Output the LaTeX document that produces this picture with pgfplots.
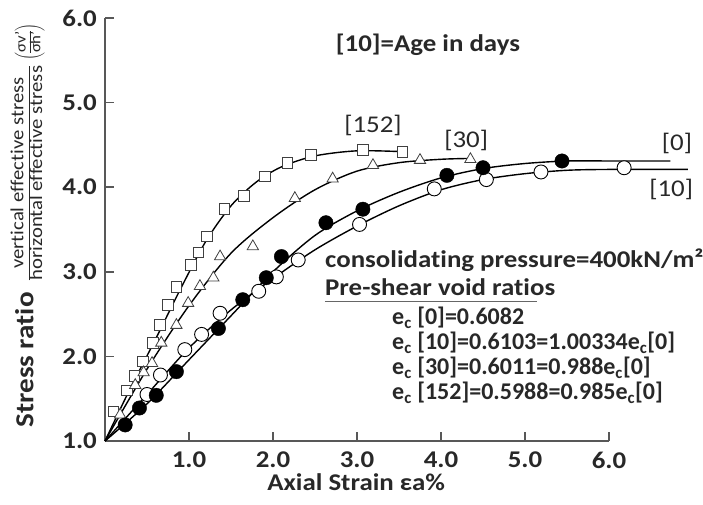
\documentclass[border=0pt]{standalone}
\usepackage{fontspec}
\setmainfont{Carlito}[Ligatures={TeX,NoCommon}]
\newfontfamily\widefont{Carlito}[FakeStretch=1.12, Ligatures={TeX,NoCommon}]
\usepackage{pgfplots}
\pgfplotsset{compat=1.18}
\definecolor{axisgray}{RGB}{88,88,88}
\definecolor{txt}{RGB}{40,40,40}
\begin{document}
\begin{tikzpicture}
\useasboundingbox (0,0) rectangle (703pt,504pt);
\begin{axis}[
  at={(105pt,63pt)}, anchor=south west,
  scale only axis, width=504pt, height=423pt,
  xmin=0, xmax=6, ymin=1, ymax=6,
  axis x line=bottom, axis y line=left,
  axis line style={-, draw=axisgray, line width=1.8pt},
  xtick={1,2,3,4,5,6}, ytick={1,2,3,4,5,6},
  tick align=inside, major tick length=9pt,
  tick style={draw=axisgray, line width=1.5pt},
  /pgf/number format/.cd, fixed, fixed zerofill, precision=1, assume math mode=true,
  /pgfplots/.cd,
  ticklabel style={font=\widefont\bfseries\fontsize{24}{24}\selectfont, text=txt, inner sep=0pt},
  xticklabel style={anchor=north, yshift=-11pt},
  yticklabel style={anchor=east, xshift=-8pt},
  clip=false,
]
% fitted curves
\addplot[black, line width=1.4pt, smooth] coordinates {
(0,1) (0.3,1.62) (0.6,2.2) (0.9,2.8) (1.2,3.36) (1.5,3.78) (1.8,4.06) (2.1,4.24) (2.5,4.37) (3.0,4.43) (3.54,4.42)};
\addplot[black, line width=1.4pt, smooth] coordinates {
(0,1) (0.5,1.85) (1.0,2.6) (1.5,3.22) (2.0,3.64) (2.5,3.97) (3.0,4.19) (3.5,4.29) (4.0,4.33) (4.35,4.34)};
\addplot[black, line width=1.4pt, smooth] coordinates {
(0,1) (0.5,1.44) (1.0,1.96) (1.5,2.48) (2.0,3.0) (2.5,3.43) (3.0,3.72) (3.5,3.94) (4.0,4.11) (4.5,4.22) (5.0,4.28) (5.5,4.31) (6.0,4.31) (6.73,4.31)};
\addplot[black, line width=1.4pt, smooth] coordinates {
(0,1) (0.5,1.55) (1.0,2.1) (1.5,2.55) (2.0,2.92) (2.5,3.26) (3.0,3.54) (3.5,3.78) (4.0,3.97) (4.5,4.09) (5.0,4.16) (5.5,4.2) (6.0,4.21) (6.94,4.21)};
% [152] squares
\addplot[only marks, mark=square*, mark size=5.3pt, mark options={fill=white, draw=black!75, line width=0.8pt}] coordinates {
(0.10,1.35) (0.26,1.60) (0.35,1.77) (0.45,1.94) (0.57,2.16) (0.65,2.37) (0.75,2.61) (0.85,2.82) (1.02,3.08) (1.11,3.23) (1.21,3.42) (1.42,3.74) (1.65,3.90) (1.90,4.13) (2.17,4.29) (2.45,4.38) (3.07,4.44) (3.54,4.42)};
% [30] triangles
\addplot[only marks, mark=triangle*, mark size=6.5pt, mark options={fill=white, draw=black!75, line width=0.8pt}] coordinates {
(0.18,1.31) (0.36,1.66) (0.46,1.81) (0.56,1.92) (0.67,2.16) (0.85,2.37) (0.99,2.63) (1.13,2.83) (1.29,2.93) (1.37,3.18) (1.76,3.30) (2.26,3.87) (2.71,4.10) (3.19,4.26) (3.75,4.32) (4.35,4.33)};
% [10] open circles
\addplot[only marks, mark=*, mark size=7pt, mark options={fill=white, draw=black, line width=0.9pt}] coordinates {
(0.50,1.55) (0.66,1.78) (0.95,2.08) (1.15,2.26) (1.37,2.51) (1.83,2.77) (2.04,2.94) (2.30,3.14) (3.03,3.56) (3.92,3.98) (4.54,4.09) (5.19,4.18) (6.18,4.23)};
% [0] filled circles
\addplot[only marks, mark=*, mark size=7.2pt, mark options={fill=black, draw=black}] coordinates {
(0.24,1.19) (0.41,1.39) (0.61,1.54) (0.85,1.82) (1.35,2.33) (1.64,2.67) (1.92,2.93) (2.10,3.18) (2.63,3.58) (3.07,3.74) (4.07,4.14) (4.50,4.23) (5.44,4.31)};
% labels
\node[anchor=base, font=\widefont\bfseries\fontsize{24}{24}\selectfont, text=txt] at (axis cs:3.845,5.604) {[10]=Age in days};
\node[anchor=center, inner sep=0pt, font=\widefont\fontsize{24}{24}\selectfont, text=txt] at (axis cs:3.19,4.73) {[152]};
\node[anchor=center, inner sep=0pt, font=\widefont\fontsize{24}{24}\selectfont, text=txt] at (axis cs:4.30,4.55) {[30]};
\node[anchor=center, inner sep=0pt, font=\widefont\fontsize{24}{24}\selectfont, text=txt] at (axis cs:6.81,4.515) {[0]};
\node[anchor=center, inner sep=0pt, font=\widefont\fontsize{24}{24}\selectfont, text=txt] at (axis cs:6.74,3.97) {[10]};
\node[anchor=base west, inner sep=0pt, font=\widefont\bfseries\fontsize{24}{24}\selectfont, text=txt] at (axis cs:2.619,3.047) {consolidating pressure=400kN/m²};
\node[anchor=base west, inner sep=0pt, font=\widefont\bfseries\fontsize{24}{24}\selectfont, text=txt] at (axis cs:2.619,2.716) {Pre-shear void ratios};
\draw[black!60, line width=0.8pt] (axis cs:2.619,2.645) -- (axis cs:5.143,2.645);
\node[anchor=base west, inner sep=0pt, font=\bfseries\fontsize{24}{24}\selectfont, text=txt] at (axis cs:3.417,2.373) {e\textsubscript{c} [0]=0.6082};
\node[anchor=base west, inner sep=0pt, font=\bfseries\fontsize{24}{24}\selectfont, text=txt] at (axis cs:3.417,2.077) {e\textsubscript{c} [10]=0.6103=1.00334e\textsubscript{c}[0]};
\node[anchor=base west, inner sep=0pt, font=\bfseries\fontsize{24}{24}\selectfont, text=txt] at (axis cs:3.417,1.781) {e\textsubscript{c} [30]=0.6011=0.988e\textsubscript{c}[0]};
\node[anchor=base west, inner sep=0pt, font=\bfseries\fontsize{24}{24}\selectfont, text=txt] at (axis cs:3.417,1.485) {e\textsubscript{c} [152]=0.5988=0.985e\textsubscript{c}[0]};
% axis titles
\node[anchor=base, inner sep=0pt, font=\widefont\bfseries\fontsize{24}{24}\selectfont, text=txt] at (axis cs:2.99,0.42) {Axial Strain εa\%};
\node[rotate=90, anchor=center, inner sep=0pt, text=txt] at (axis cs:-0.905,3.55) {%
  {\widefont\bfseries\fontsize{26}{28}\selectfont Stress ratio}\hspace{12pt}%
  {\widefont\fontsize{18.5}{20}\selectfont\renewcommand{\arraystretch}{0.9}$\vcenter{\hbox{\begin{tabular}{@{}c@{}}vertical effective stress\\\hline horizontal effective stress\end{tabular}}}$}\hspace{5pt}%
  {\widefont\fontsize{15}{16}\selectfont\renewcommand{\arraystretch}{0.8}$\left(\vcenter{\hbox{\begin{tabular}{@{}c@{}}σv'\\\hline σh'\end{tabular}}}\right)$}};
\end{axis}
\end{tikzpicture}
\end{document}
